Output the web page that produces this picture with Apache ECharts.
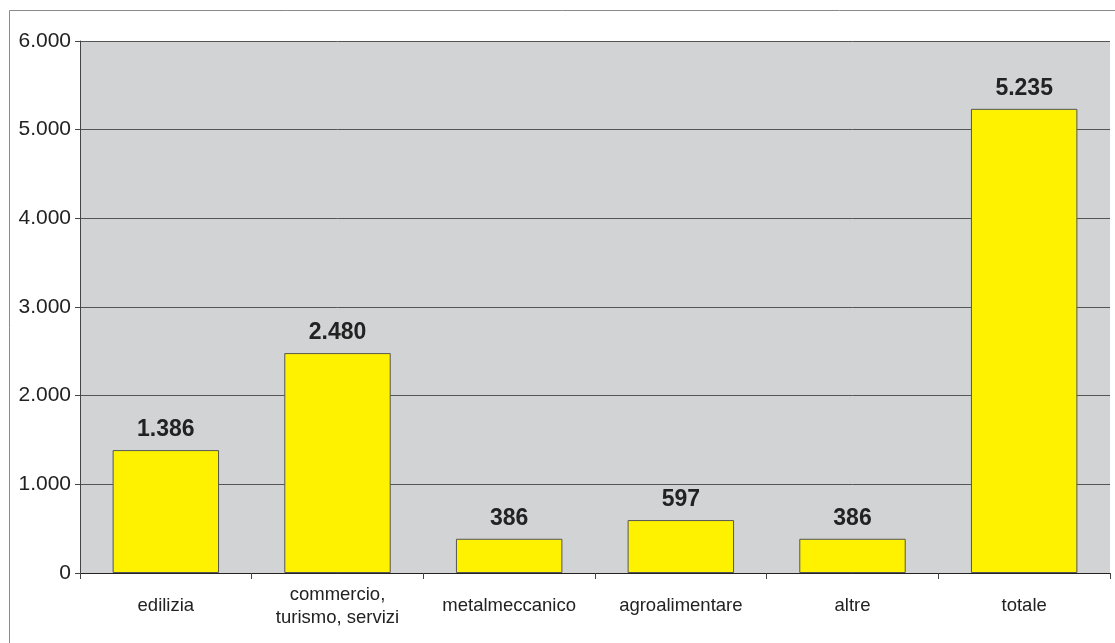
<!DOCTYPE html>
<html><head><meta charset="utf-8">
<script src="https://cdn.jsdelivr.net/npm/echarts@6/dist/echarts.min.js"></script>
<style>html,body{margin:0;padding:0;background:#fff;}#c{width:1115px;height:643px;}</style>
</head><body><div id="c"></div>
<script>
const categories = ['edilizia', 'commercio,\nturismo, servizi', 'metalmeccanico', 'agroalimentare', 'altre', 'totale'];
const values = [1386, 2480, 386, 597, 386, 5235];
const yTicks = [0, 1000, 2000, 3000, 4000, 5000, 6000];

function fmt(v){ return String(v).replace(/\B(?=(\d{3})+(?!\d))/g, '.'); }

const chart = echarts.init(document.getElementById('c'), null, {renderer:'canvas'});
chart.setOption({
  animation: false,
  backgroundColor: '#fff',
  graphic: [{type:'rect', shape:{x:9.5, y:10.5, width:1200, height:700}, style:{fill:'none', stroke:'#8a8a8a', lineWidth:1}, z:-1}],
  grid: {left: 80, right: 5, top: 41, bottom: 70, show: true, backgroundColor: '#d2d3d5', borderWidth: 0},
  xAxis: {
    type: 'category', data: categories,
    axisLine: {show: true, lineStyle: {color: '#222', width: 1}},
    axisTick: {show: true, interval: 0, length: 6, lineStyle: {color: '#444'}},
    axisLabel: {interval: 0, hideOverlap: false, verticalAlign: 'middle', color: '#222', fontSize: 18.5, fontFamily: 'Liberation Sans, Arial, sans-serif', margin: 33, lineHeight: 23}
  },
  yAxis: {
    type: 'value', min: yTicks[0], max: yTicks[yTicks.length-1], interval: 1000,
    axisLine: {show: true, lineStyle: {color: '#444', width: 1}},
    axisTick: {show: true, length: 5, lineStyle: {color: '#444'}},
    splitLine: {show: true, lineStyle: {color: '#555', width: 1}},
    axisLabel: {color: '#222', fontSize: 21, fontFamily: 'Liberation Sans, Arial, sans-serif', margin: 9, formatter: v => fmt(v)}
  },
  series: [{
    type: 'bar', data: values, barWidth: '62%',
    itemStyle: {color: '#fff200', borderColor: '#555', borderWidth: 1},
    label: {show: true, position: 'top', distance: 9, color: '#222', fontSize: 23, fontWeight: 'bold', fontFamily: 'Liberation Sans, Arial, sans-serif', formatter: p => fmt(p.value)}
  }]
});
</script></body></html>
